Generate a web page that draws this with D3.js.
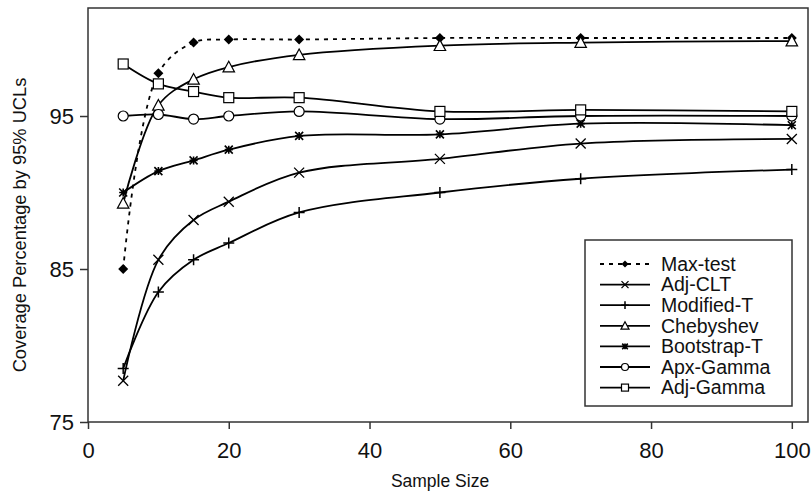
<!DOCTYPE html>
<html>
<head>
<meta charset="utf-8">
<script src="https://cdn.jsdelivr.net/npm/d3@7/dist/d3.min.js"></script>
<style>
  body { margin: 0; background: #fff; }
  text { font-family: "Liberation Sans", Arial, sans-serif; fill: #111; }
</style>
</head>
<body>
<script>
// sample sizes on the x axis
var sampleSizes = [5, 10, 15, 20, 30, 50, 70, 100];

// coverage percentages
var maxTest     = [85.0, 97.8, 99.8, 100.0, 100.0, 100.1, 100.1, 100.1];
var adjCLT      = [77.7, 85.6, 88.2, 89.4, 91.3, 92.2, 93.2, 93.5];
var modifiedT   = [78.5, 83.5, 85.6, 86.7, 88.7, 90.0, 90.9, 91.5];
var chebyshev   = [89.3, 95.7, 97.4, 98.2, 99.0, 99.6, 99.8, 99.9];
var bootstrapT  = [90.0, 91.4, 92.1, 92.8, 93.7, 93.8, 94.5, 94.4];
var apxGamma    = [95.0, 95.1, 94.8, 95.0, 95.3, 94.8, 95.0, 95.0];
var adjGamma    = [98.4, 97.1, 96.6, 96.2, 96.2, 95.3, 95.4, 95.3];

var seriesNames = ["Max-test", "Adj-CLT", "Modified-T", "Chebyshev", "Bootstrap-T", "Apx-Gamma", "Adj-Gamma"];
var seriesValues = [maxTest, adjCLT, modifiedT, chebyshev, bootstrapT, apxGamma, adjGamma];
var seriesMarkers = ["diamond", "times", "plus", "triangle", "asterisk", "circle", "square"];

var xTicks = [0, 20, 40, 60, 80, 100];
var yTicks = [75, 85, 95];

var width = 812, height = 493;
var plotLeft = 88, plotRight = 808, plotTop = 8, plotBottom = 422;

var svg = d3.select("body").append("svg")
    .attr("width", width)
    .attr("height", height);

var x = d3.scaleLinear().domain([0, 102.3]).range([plotLeft, plotRight]);
var y = d3.scaleLinear().domain([75, 102.06]).range([plotBottom, plotTop]);

// axes
var xAxis = d3.axisBottom(x).tickValues(xTicks).tickSize(7).tickPadding(13);
var yAxis = d3.axisLeft(y).tickValues(yTicks).tickSize(8).tickPadding(6);

var gx = svg.append("g")
    .attr("transform", "translate(0," + plotBottom + ")")
    .call(xAxis);
var gy = svg.append("g")
    .attr("transform", "translate(" + plotLeft + ",0)")
    .call(yAxis);

[gx, gy].forEach(function (g) {
    g.select(".domain").remove();
    g.selectAll("line").attr("stroke", "#333").attr("stroke-width", 1.5);
    g.selectAll("text").attr("font-size", 22).attr("fill", "#111")
        .style("font-family", "'Liberation Sans', Arial, sans-serif");
});

// plot frame
svg.append("rect")
    .attr("x", plotLeft).attr("y", plotTop)
    .attr("width", plotRight - plotLeft).attr("height", plotBottom - plotTop)
    .attr("fill", "none")
    .attr("stroke", "#333")
    .attr("stroke-width", 1.5);

// axis titles
svg.append("text")
    .attr("x", 440).attr("y", 487)
    .attr("text-anchor", "middle")
    .attr("font-size", 17.5)
    .text("Sample Size");

svg.append("text")
    .attr("transform", "translate(26,225) rotate(-90)")
    .attr("text-anchor", "middle")
    .attr("font-size", 18.3)
    .text("Coverage Percentage by 95% UCLs");

// marker drawing
function marker(g, type, s) {
    if (type === "diamond") {
        g.append("path").attr("d", "M0," + (-s) + "L" + s + ",0L0," + s + "L" + (-s) + ",0Z")
            .attr("fill", "#000");
    } else if (type === "times") {
        g.append("path").attr("d", "M" + (-s) + "," + (-s) + "L" + s + "," + s + "M" + (-s) + "," + s + "L" + s + "," + (-s))
            .attr("stroke", "#000").attr("stroke-width", 1.3).attr("fill", "none");
    } else if (type === "plus") {
        var p = s * 1.1;
        g.append("path").attr("d", "M" + (-p) + ",0L" + p + ",0M0," + (-p) + "L0," + p)
            .attr("stroke", "#000").attr("stroke-width", 1.5).attr("fill", "none");
    } else if (type === "triangle") {
        var t = s * 1.15;
        g.append("path").attr("d", "M0," + (-t) + "L" + t + "," + (t * 0.85) + "L" + (-t) + "," + (t * 0.85) + "Z")
            .attr("stroke", "#000").attr("stroke-width", 1.2).attr("fill", "#fff");
    } else if (type === "asterisk") {
        var a = s * 0.8;
        g.append("path").attr("d", "M" + (-a) + "," + (-a) + "L" + a + "," + a + "M" + (-a) + "," + a + "L" + a + "," + (-a) +
            "M" + (-a) + ",0L" + a + ",0M0," + (-a) + "L0," + a)
            .attr("stroke", "#000").attr("stroke-width", 1.6).attr("fill", "none");
    } else if (type === "circle") {
        g.append("circle").attr("r", s)
            .attr("stroke", "#000").attr("stroke-width", 1.2).attr("fill", "#fff");
    } else if (type === "square") {
        g.append("rect").attr("x", -s).attr("y", -s).attr("width", 2 * s).attr("height", 2 * s)
            .attr("stroke", "#000").attr("stroke-width", 1.2).attr("fill", "#fff");
    }
}

var line = d3.line()
    .x(function (d) { return x(d.n); })
    .y(function (d) { return y(d.v); })
    .curve(d3.curveCatmullRom.alpha(0.5));

var series = seriesNames.map(function (name, i) {
    return {
        name: name,
        marker: seriesMarkers[i],
        points: sampleSizes.map(function (n, j) { return { n: n, v: seriesValues[i][j] }; })
    };
});

// lines first, then markers on top
series.forEach(function (s) {
    svg.append("path")
        .datum(s.points)
        .attr("d", line)
        .attr("fill", "none")
        .attr("stroke", "#000")
        .attr("stroke-width", 1.8)
        .attr("stroke-dasharray", s.name === "Max-test" ? "4,5" : null);
});

series.forEach(function (s) {
    s.points.forEach(function (d) {
        var g = svg.append("g").attr("transform", "translate(" + x(d.n) + "," + y(d.v) + ")");
        marker(g, s.marker, 5);
    });
});

// legend
var legend = svg.append("g");
legend.append("rect")
    .attr("x", 585).attr("y", 240)
    .attr("width", 207).attr("height", 166)
    .attr("fill", "#fff")
    .attr("stroke", "#333")
    .attr("stroke-width", 1.5);

series.forEach(function (s, i) {
    var cy = 264 + i * 20.6;
    legend.append("line")
        .attr("x1", 600).attr("x2", 650)
        .attr("y1", cy).attr("y2", cy)
        .attr("stroke", "#000")
        .attr("stroke-width", 1.8)
        .attr("stroke-dasharray", s.name === "Max-test" ? "4,5" : null);
    var g = legend.append("g").attr("transform", "translate(625," + cy + ")");
    marker(g, s.marker, 3.5);
    legend.append("text")
        .attr("x", 661).attr("y", cy)
        .attr("dy", "0.35em")
        .attr("font-size", 19.5)
        .text(s.name);
});
</script>
</body>
</html>
